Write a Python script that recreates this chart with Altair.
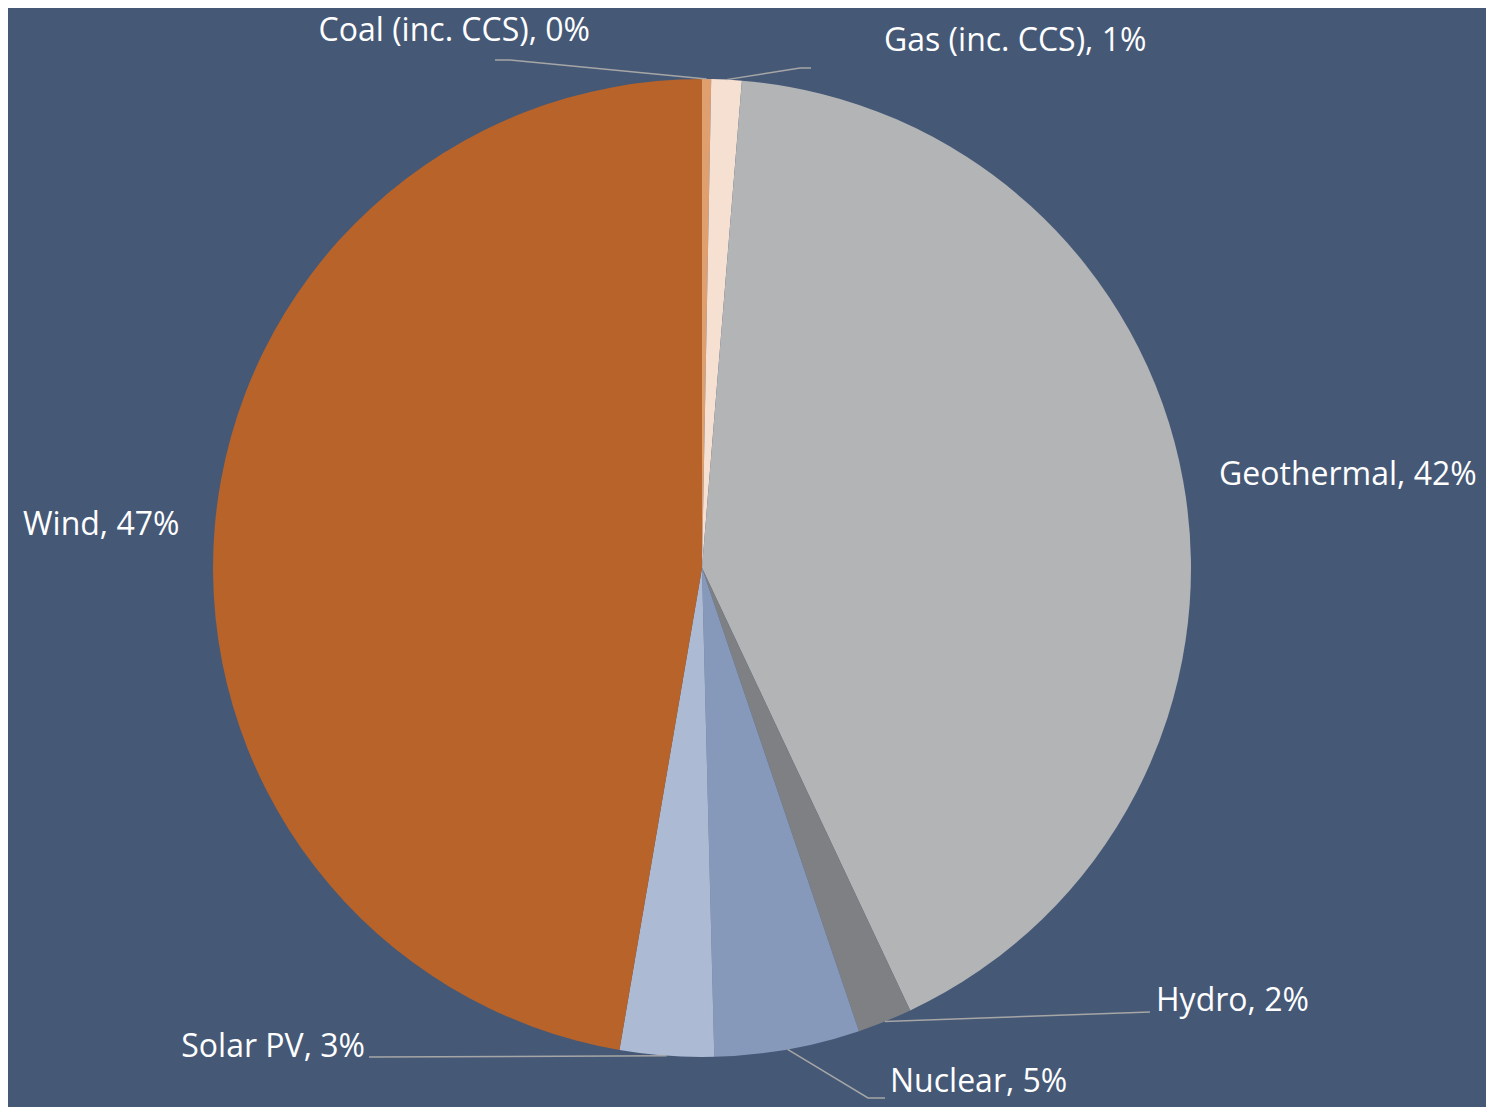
import altair as alt
import pandas as pd
import numpy as np

# ---- data ----
sources = ["Coal (inc. CCS)", "Gas (inc. CCS)", "Geothermal", "Hydro", "Nuclear", "Solar PV", "Wind"]
shares = [0.3, 1.0, 41.7, 1.8, 4.8, 3.1, 47.3]
shown_pct = ["0%", "1%", "42%", "2%", "5%", "3%", "47%"]

# ---- styles ----
colors = ["#E09F6E", "#F6E0D2", "#B3B4B6", "#7F8083", "#8799BB", "#ADBAD4", "#B76329"]
BG = "#455876"
LINE = "#A6A6A6"
FONT = "Open Sans"

# ---- layout (chart pixel coordinates) ----
W, H = 1478, 1099
CX, CY, R = 694, 560, 489
# label anchor (x, y, align) and leader-line elbow/end points (None = no leader)
label_pos = [(582, 23, "right"), (876, 33, "left"), (1211, 467, "left"), (1148, 993, "left"),
             (882, 1074, "left"), (357, 1039, "right"), (15, 517, "left")]
leader_pts = [[(502, 52), (487, 52)], [(792, 60), (803, 60)], None, [(1142, 1004)],
              [(860, 1090), (877, 1090)], [(361, 1049)], None]

df = pd.DataFrame({"source": sources, "share": shares, "idx": range(len(sources))})
df["label"] = [f"{s}, {p}" for s, p in zip(sources, shown_pct)]
df["lx"] = [p[0] for p in label_pos]
df["ly"] = [p[1] for p in label_pos]
df["align"] = [p[2] for p in label_pos]

# leader lines start on the pie edge at each slice's mid angle
total = sum(shares)
cum = np.cumsum([0] + shares)
rows = []
for i, s in enumerate(sources):
    if leader_pts[i] is None:
        continue
    mid = (cum[i] + cum[i + 1]) / 2 / total * 2 * np.pi
    pts = [(CX + R * np.sin(mid), CY - R * np.cos(mid))] + leader_pts[i]
    for k, (px, py) in enumerate(pts):
        rows.append({"source": s, "seq": k, "px": px, "py": py})
lines_df = pd.DataFrame(rows)

pie = alt.Chart(df).mark_arc(outerRadius=R).encode(
    theta=alt.Theta("share:Q", stack=True),
    color=alt.Color("source:N", scale=alt.Scale(domain=sources, range=colors), legend=None),
    order=alt.Order("idx:Q"),
    x=alt.value(CX),
    y=alt.value(CY),
)

leaders = alt.Chart(lines_df).mark_line(color=LINE, strokeWidth=1.5).encode(
    x=alt.X("px:Q", scale=None, axis=None),
    y=alt.Y("py:Q", scale=None, axis=None),
    detail="source:N",
    order="seq:Q",
)

def text_layer(al):
    return alt.Chart(df).transform_filter(alt.datum.align == al).mark_text(
        align=al, baseline="middle", font=FONT, fontSize=32, color="white"
    ).encode(
        x=alt.X("lx:Q", scale=None, axis=None),
        y=alt.Y("ly:Q", scale=None, axis=None),
        text="label:N",
    )

chart = alt.layer(pie, leaders, text_layer("left"), text_layer("right")).properties(
    width=W, height=H, background=BG, padding=0,
    autosize=alt.AutoSizeParams(type="none"),
).configure_view(stroke=None)

chart.save("out.html", embed_options={"renderer": "svg", "actions": False})
